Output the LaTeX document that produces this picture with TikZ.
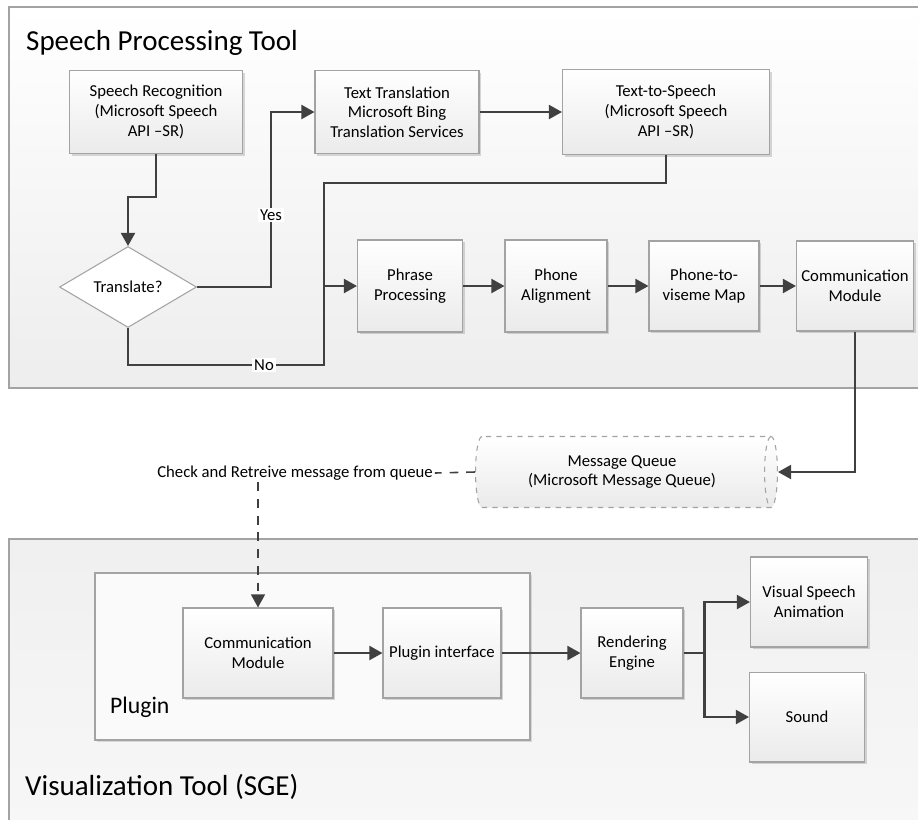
\documentclass[tikz,border=0pt]{standalone}
\usepackage{fontspec}
\setmainfont{Carlito}
\usetikzlibrary{arrows.meta,shapes.geometric,shadows}

\definecolor{boxline}{HTML}{A3A3A3}
\definecolor{flowline}{HTML}{404040}
\newcommand{\procfont}{\fontsize{9.5}{11.2}\selectfont}

\tikzset{
  panel/.style={draw=boxline, line width=0.6pt},
  procbox/.style={draw=boxline, line width=0.6pt, top color=white, bottom color=black!8,
    align=center, font=\procfont, inner sep=2pt,
    drop shadow={shadow xshift=1.2pt, shadow yshift=-1.2pt, opacity=0.25, fill=black!60}},
  link/.style={draw=flowline, line width=1.3pt},
  flow/.style={link, -{Triangle[length=7.5pt,width=8pt]}},
  dashlink/.style={draw=flowline, line width=0.9pt, dash pattern=on 5pt off 4.5pt},
  labelbg/.style={fill=white, inner sep=1pt, font=\procfont},
}

\begin{document}
\begin{tikzpicture}[x=0.02cm, y=-0.02cm]
    \useasboundingbox (0,0) rectangle (918,819);

    %Top panel
    \shade[top color=white, bottom color=black!7] (9,7) rectangle (940,388);
    \draw[panel] (940,7) -- (9,7) -- (9,388) -- (940,388);
    \node[anchor=west, font=\fontsize{16.5}{19}\selectfont] (sptitle) at (20,43) {Speech Processing Tool};

    %Bottom panel
    \shade[top color=black!6, bottom color=black!3] (9,539) rectangle (940,840);
    \draw[panel] (940,539) -- (9,539) -- (9,840);
    \node[anchor=west, font=\fontsize{16.5}{19}\selectfont] (vistitle) at (19,787) {Visualization Tool (SGE)};

    %Plugin frame
    \draw[panel, fill=black!2, drop shadow={shadow xshift=1pt, shadow yshift=-1pt, opacity=0.2, fill=black!60}] (95,573) rectangle (530,740);
    \node[anchor=west, font=\fontsize{13.5}{16}\selectfont] (plugtitle) at (104,707) {Plugin};

    %Speech processing steps
    \node[procbox, minimum width=3.46cm, minimum height=1.66cm] (sr) at (156,112) {Speech Recognition\\(Microsoft Speech\\API --SR)};
    \node[procbox, minimum width=3.28cm, minimum height=1.66cm] (tt) at (397,112) {Text Translation\\Microsoft Bing\\Translation Services};
    \node[procbox, minimum width=4.14cm, minimum height=1.70cm] (tts) at (666,112) {Text-to-Speech\\(Microsoft Speech\\API --SR)};
    \node[diamond, draw=boxline, line width=0.6pt, fill=white, aspect=1.7, inner sep=0pt,
          minimum width=2.74cm, minimum height=1.62cm, font=\procfont] (dec) at (128,287) {Translate?};
    \node[procbox, minimum width=2.10cm, minimum height=1.84cm] (phrase) at (410,286) {Phrase\\Processing};
    \node[procbox, minimum width=2.04cm, minimum height=1.84cm] (align) at (556,286) {Phone\\Alignment};
    \node[procbox, minimum width=2.20cm, minimum height=1.80cm] (viseme) at (704,286) {Phone-to-\\viseme Map};
    \node[procbox, minimum width=2.34cm, minimum height=1.80cm] (comm) at (855,286) {Communication\\Module};

    %Queue
    \node[cylinder, draw=boxline, line width=0.6pt, dashed, shape aspect=0.35,
          top color=white, bottom color=black!8, align=center, font=\procfont, inner sep=1pt,
          minimum width=1.42cm, minimum height=6.04cm] (queue) at (622,472) {Message Queue\\(Microsoft Message Queue)};
    \node[font=\procfont, inner sep=1pt] (chk) at (295,473) {Check and Retreive message from queue};

    %Visualization steps
    \node[procbox, minimum width=3.00cm, minimum height=1.80cm] (pcomm) at (258,653) {Communication\\Module};
    \node[procbox, minimum width=2.36cm, minimum height=1.80cm] (pif) at (442,653) {Plugin interface};
    \node[procbox, minimum width=2.04cm, minimum height=1.80cm] (render) at (632,653) {Rendering\\Engine};
    \node[procbox, minimum width=2.34cm, minimum height=1.80cm] (anim) at (809,602) {Visual Speech\\Animation};
    \node[procbox, minimum width=2.30cm, minimum height=1.80cm] (sound) at (807,717) {Sound};

    %Junction points
    \coordinate (join) at ([xshift=-0.66cm]phrase.west);
    \coordinate (fork) at ([xshift=0.42cm]render.east);

    %Speech flow
    \draw[flow] (sr.south) -- ++(0,43) -| (dec.north);
    \draw[flow] (dec.east) -- ++(74,0) |- node[pos=0.206, labelbg] {Yes} (tt.west);
    \draw[flow] (tt) -- (tts);
    \draw[link] (tts.south) -- ++(0,28) -| (join);
    \draw[link] (dec.south) -- ++(0,37) -| node[pos=0.347, labelbg] {No} (join);
    \draw[flow] (join) -- (phrase.west);
    \draw[flow] (phrase) -- (align);
    \draw[flow] (align) -- (viseme);
    \draw[flow] (viseme) -- (comm);
    \draw[flow] (comm.south) |- (queue.east);

    %Queue polling
    \draw[dashlink] (queue.west) -- (chk.east);
    \draw[dashlink, -{Triangle[length=7.5pt,width=8pt]}] (chk.south -| pcomm.north) -- (pcomm.north);

    %Visualization flow
    \draw[flow] (pcomm) -- (pif);
    \draw[flow] (pif) -- (render);
    \draw[link] (render.east) -- (fork);
    \draw[flow] (fork) |- (anim.west);
    \draw[flow] (fork) |- (sound.west);

\end{tikzpicture}
\end{document}
